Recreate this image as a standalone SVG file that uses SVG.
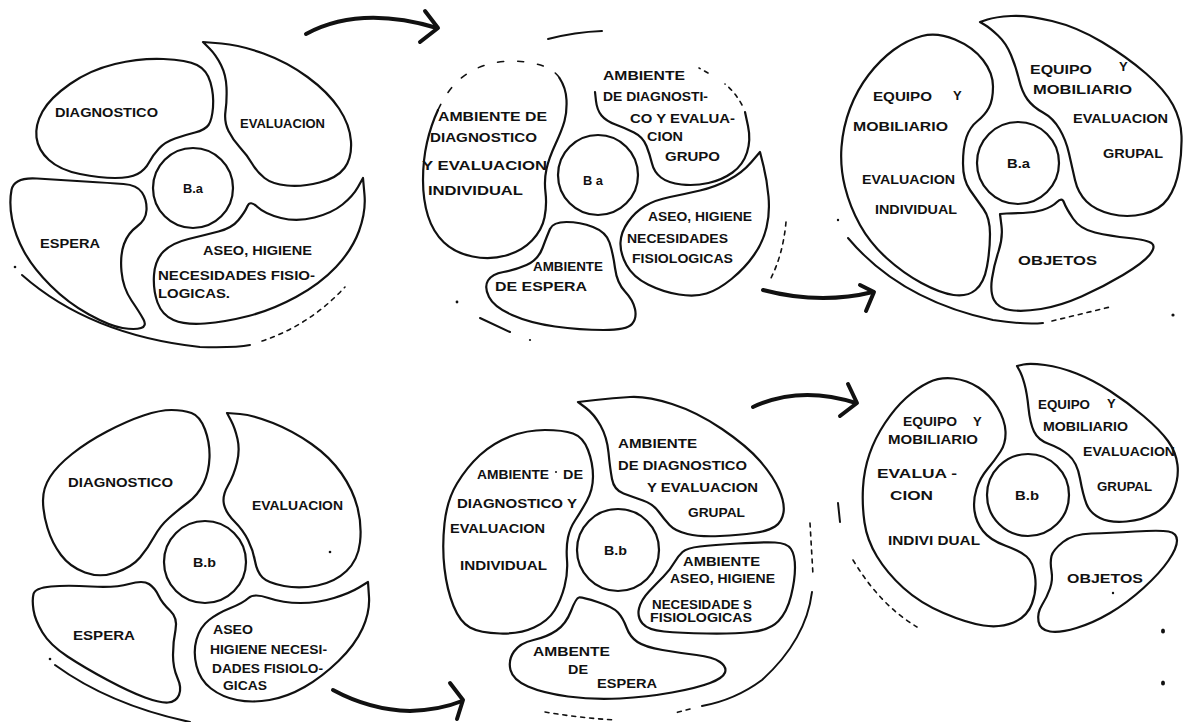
<svg xmlns="http://www.w3.org/2000/svg" width="1183" height="722" viewBox="0 0 1183 722">
<style>
  .blob { fill: none; stroke: #111; stroke-width: 2.2; stroke-linejoin: round; stroke-linecap: round; }
  .hub { fill: none; stroke: #111; stroke-width: 2.2; }
  .rim { fill: none; stroke: #111; stroke-width: 2; stroke-linecap: round; }
  .rimd { fill: none; stroke: #111; stroke-width: 1.6; stroke-linecap: round; stroke-dasharray: 4 5; }
  .faint { fill: none; stroke: #111; stroke-width: 1.6; stroke-linecap: round; stroke-dasharray: 6 14; }
  .arrow { fill: none; stroke: #111; stroke-width: 4; stroke-linecap: round; stroke-linejoin: round; }
  .dot { fill: #111; }
  text { font-family: "Liberation Sans", Arial, sans-serif; font-weight: bold; font-size: 13px; fill: #111; }
  .s { font-size: 12px; }
</style>
<rect width="1183" height="722" fill="#fff"/>

<!-- ===== Plan B.a, stage 1 ===== -->
<g id="a1">
  <g id="a1-diagnostico">
    <path class="blob" d="M115,64 Q140,58 163.5,59 Q187,60 197,65 Q207,70 210.5,82.5 Q214,95 213,107.5 Q212,120 208.5,125 Q205,130 195,132.5 Q185,135 175,138.5 Q165,142 159,148.5 Q153,155 149,162.5 Q145,170 137.5,174 Q130,178 115,178 Q100,178 80,174 Q60,170 49,160 Q38,150 36.5,137.5 Q35,125 42.5,111.5 Q50,98 70,84 Q90,70 115,64 Z"/>
    <text x="55" y="117" textLength="103" lengthAdjust="spacingAndGlyphs">DIAGNOSTICO</text>
  </g>
  <g id="a1-evaluacion">
    <path class="blob" d="M203,42 L221.5,43.5 Q240,45 263.5,53.5 Q287,62 307.5,77 Q328,92 339,108.5 Q350,125 351,141.5 Q352,158 344.5,168 Q337,178 319.5,182.5 Q302,187 287,185.5 Q272,184 264.5,178 Q257,172 252,163.5 Q247,155 240,147.5 Q233,140 228.5,131 Q224,122 225.5,111 Q227,100 226.5,87.5 Q226,75 221,65 Q216,55 209.5,48.5 Z"/>
    <text x="240" y="128" textLength="85" lengthAdjust="spacingAndGlyphs">EVALUACION</text>
  </g>
  <g id="a1-aseo">
    <path class="blob" d="M363,178 L364.5,195 Q366,212 359,231 Q352,250 336,267 Q320,284 296,297 Q272,310 248.5,316 Q225,322 205,323.5 Q185,325 173.5,320 Q162,315 157.5,302.5 Q153,290 154,275 Q155,260 163.5,251.5 Q172,243 188.5,239 Q205,235 218.5,231.5 Q232,228 238.5,220 Q245,212 247.5,206 Q250,200 257.5,207 Q265,214 281,218 Q297,222 314.5,217.5 Q332,213 342.5,204.5 Q353,196 358,187 Z"/>
    <text x="203" y="255" textLength="109" lengthAdjust="spacingAndGlyphs">ASEO, HIGIENE</text>
    <text x="158" y="280" textLength="157" lengthAdjust="spacingAndGlyphs">NECESIDADES FISIO-</text>
    <text x="158" y="298" textLength="72" lengthAdjust="spacingAndGlyphs">LOGICAS.</text>
  </g>
  <g id="a1-espera">
    <path class="blob" d="M11.5,190 Q14,177 37,178.5 Q60,180 85,181.5 Q110,183 123.5,184 Q137,185 142,192.5 Q147,200 146.5,210 Q146,220 137,226.5 Q128,233 124,244 Q120,255 121.5,271.5 Q123,288 131.5,300.5 Q140,313 143.5,319.5 Q147,326 141,328 Q135,330 122.5,328 Q110,326 89,314.5 Q68,303 50.5,285.5 Q33,268 24,251.5 Q15,235 12,219 Q9,203 11.5,190 Z"/>
    <text x="40" y="248" textLength="60" lengthAdjust="spacingAndGlyphs">ESPERA</text>
  </g>
  <g id="a1-hub">
    <circle class="hub" cx="193" cy="188" r="40"/>
    <text class="s" x="183" y="193" textLength="20" lengthAdjust="spacingAndGlyphs">B.a</text>
  </g>
  <g id="a1-rim">
    <path class="rim" d="M22,275 Q90,335 200,347 Q235,348 250,345"/>
    <path class="rimd" d="M262,341 Q310,325 345,287"/>
    <circle class="dot" cx="15" cy="267" r="1.3"/>
  </g>
</g>

<!-- ===== Plan B.a, stage 2 ===== -->
<g id="a2">
  <g id="a2-individual">
    <path class="blob" d="M559.5,78 Q566,88 566.5,100 Q567,112 564.5,121 Q562,130 555.5,144 Q549,158 546.5,169 Q544,180 545.5,192.5 Q547,205 544.5,217.5 Q542,230 532,240.5 Q522,251 506,255.5 Q490,260 472.5,256.5 Q455,253 444,242.5 Q433,232 428,216 Q423,200 423,180 Q423,160 427,142.5 Q431,125 438,110"/>
    <path class="faint" d="M438,110 Q445,95 453.5,85.5 Q462,76 474.5,69.5 Q487,63 503.5,61.5 Q520,60 536.5,64 Q553,68 559.5,78"/>
    <text x="438" y="121" textLength="109" lengthAdjust="spacingAndGlyphs">AMBIENTE  DE</text>
    <text x="430" y="142" textLength="107" lengthAdjust="spacingAndGlyphs">DIAGNOSTICO</text>
    <text x="422" y="170" textLength="125" lengthAdjust="spacingAndGlyphs">Y  EVALUACION</text>
    <text x="428" y="195" textLength="95" lengthAdjust="spacingAndGlyphs">INDIVIDUAL</text>
  </g>
  <g id="a2-grupo">
    <path class="blob" d="M595,92 L596,101 Q597,110 601.5,115.5 Q606,121 615.5,124.5 Q625,128 634,132.5 Q643,137 646.5,146 Q650,155 652,163.5 Q654,172 661,177.5 Q668,183 681.5,184.5 Q695,186 708.5,183 Q722,180 732.5,172.5 Q743,165 747,152.5 Q751,140 748,126 L745,112"/>
    <path class="rimd" d="M742,105 Q735,92 725,84 M708,73 L699,68"/>
    <text x="603" y="80" textLength="82" lengthAdjust="spacingAndGlyphs">AMBIENTE</text>
    <text x="603" y="101" textLength="105" lengthAdjust="spacingAndGlyphs">DE DIAGNOSTI-</text>
    <text x="630" y="123" textLength="105" lengthAdjust="spacingAndGlyphs">CO Y EVALUA-</text>
    <text x="647" y="141" textLength="36" lengthAdjust="spacingAndGlyphs">CION</text>
    <text x="665" y="161" textLength="55" lengthAdjust="spacingAndGlyphs">GRUPO</text>
  </g>
  <g id="a2-aseo">
    <path class="blob" d="M760,152 L763.5,166 Q767,180 768.5,196.5 Q770,213 766.5,227.5 Q763,242 754,255 Q745,268 731.5,279 Q718,290 706.5,293.5 Q695,297 679,294.5 Q663,292 648,284.5 Q633,277 626.5,265 Q620,253 620.5,242.5 Q621,232 628,222 Q635,212 645,206 Q655,200 670,197 Q685,194 700,190.5 Q715,187 728.5,180 Q742,173 751,162.5 Z"/>
    <text x="648" y="221" textLength="104" lengthAdjust="spacingAndGlyphs">ASEO, HIGIENE</text>
    <text x="627" y="243" textLength="101" lengthAdjust="spacingAndGlyphs">NECESIDADES</text>
    <text x="632" y="263" textLength="101" lengthAdjust="spacingAndGlyphs">FISIOLOGICAS</text>
  </g>
  <g id="a2-espera">
    <path class="blob" d="M550,229 Q553,222 566.5,222 Q580,222 593,227 Q606,232 609.5,242.5 Q613,253 615,268 Q617,283 625,291.5 Q633,300 635,309 Q637,318 632,324 Q627,330 603.5,330 Q580,330 555,326.5 Q530,323 512,315 Q494,307 489,297 Q484,287 488,280.5 Q492,274 503.5,272 Q515,270 526.5,265 Q538,260 542.5,248 Q547,236 550,229 Z"/>
    <text x="533" y="271" textLength="70" lengthAdjust="spacingAndGlyphs">AMBIENTE</text>
    <text x="495" y="291" textLength="92" lengthAdjust="spacingAndGlyphs">DE  ESPERA</text>
  </g>
  <g id="a2-hub">
    <circle class="hub" cx="598" cy="175" r="40"/>
    <text class="s" x="583" y="185" textLength="20" lengthAdjust="spacingAndGlyphs">B a</text>
  </g>
  <g id="a2-rim">
    <path class="rim" d="M548,39 Q575,32 602,31"/>
    <path class="rim" d="M480,318 L510,332"/>
    <path class="rimd" d="M786,222 Q783,255 770,280"/>
    <circle class="dot" cx="457" cy="302" r="1.4"/>
    <circle class="dot" cx="530" cy="340" r="1.1"/>
  </g>
</g>

<!-- ===== Plan B.a, stage 3 ===== -->
<g id="a3">
  <g id="a3-individual">
    <path class="blob" d="M922,36 Q937,32 955,39.5 Q973,47 983,60 Q993,73 993,86.5 Q993,100 989,107.5 Q985,115 977.5,121 Q970,127 966.5,137 Q963,147 963,163.5 Q963,180 970,190 Q977,200 983.5,209 Q990,218 990,234 Q990,250 987,266.5 Q984,283 975.5,290 Q967,297 953.5,295 Q940,293 921.5,283 Q903,273 886.5,258 Q870,243 860,225 Q850,207 845,187 Q840,167 841.5,147 Q843,127 850,108.5 Q857,90 868.5,75 Q880,60 893.5,50 Q907,40 922,36 Z"/>
    <text x="873" y="101" textLength="59" lengthAdjust="spacingAndGlyphs">EQUIPO</text>
    <text x="953" y="100">Y</text>
    <text x="853" y="131" textLength="95" lengthAdjust="spacingAndGlyphs">MOBILIARIO</text>
    <text x="862" y="184" textLength="93" lengthAdjust="spacingAndGlyphs">EVALUACION</text>
    <text x="875" y="214" textLength="82" lengthAdjust="spacingAndGlyphs">INDIVIDUAL</text>
  </g>
  <g id="a3-grupal">
    <path class="blob" d="M980,22 L987.5,19.5 Q995,17 1011,16 Q1027,15 1052,21 Q1077,27 1102,42 Q1127,57 1146,73.5 Q1165,90 1173,105 Q1181,120 1181.5,136 Q1182,152 1179,169.5 Q1176,187 1168,198.5 Q1160,210 1143.5,214 Q1127,218 1111,214 Q1095,210 1086.5,201.5 Q1078,193 1075,180 Q1072,167 1069,153.5 Q1066,140 1059.5,129 Q1053,118 1043,112.5 Q1033,107 1027.5,99.5 Q1022,92 1019,79.5 Q1016,67 1011,55 Q1006,43 998,35.5 Q990,28 985,25 Z"/>
    <text x="1030" y="74" textLength="62" lengthAdjust="spacingAndGlyphs">EQUIPO</text>
    <text x="1119" y="71">Y</text>
    <text x="1033" y="94" textLength="99" lengthAdjust="spacingAndGlyphs">MOBILIARIO</text>
    <text x="1073" y="123" textLength="95" lengthAdjust="spacingAndGlyphs">EVALUACION</text>
    <text x="1103" y="158" textLength="60" lengthAdjust="spacingAndGlyphs">GRUPAL</text>
  </g>
  <g id="a3-objetos">
    <path class="blob" d="M1000,214 L1001.5,226 Q1003,238 998.5,251.5 Q994,265 992,278.5 Q990,292 994,300 Q998,308 1010,310 Q1022,312 1041,309 Q1060,306 1081.5,296.5 Q1103,287 1123,275 Q1143,263 1149.5,255 Q1156,247 1152,243.5 Q1148,240 1129,238 Q1110,236 1095,232.5 Q1080,229 1073,218.5 Q1066,208 1064,202.5 Q1062,197 1057,202 Q1052,207 1042.5,210 Q1033,213 1023,213 Q1013,213 1006.5,213.5 Z"/>
    <text x="1018" y="265" textLength="79" lengthAdjust="spacingAndGlyphs">OBJETOS</text>
  </g>
  <g id="a3-hub">
    <circle class="hub" cx="1018" cy="163" r="41"/>
    <text class="s" x="1007" y="168" textLength="23" lengthAdjust="spacingAndGlyphs">B.a</text>
  </g>
  <g id="a3-rim">
    <path class="rim" d="M848,238 Q900,300 993,320 Q1025,325 1043,323"/>
    <path class="rimd" d="M1052,321 L1110,307"/>
    <circle class="dot" cx="1173" cy="315" r="1.6"/>
    <circle class="dot" cx="838" cy="220" r="1.2"/>
  </g>
</g>

<!-- ===== Plan B.b, stage 1 ===== -->
<g id="b1">
  <g id="b1-diagnostico">
    <path class="blob" d="M171.5,410 Q183,410 191.5,413 Q200,416 205,429.5 Q210,443 209.5,457.5 Q209,472 203.5,483.5 Q198,495 188,502.5 Q178,510 169,518 Q160,526 154,537 Q148,548 140,557.5 Q132,567 116,572.5 Q100,578 85,572.5 Q70,567 61,555 Q52,543 47.5,528 Q43,513 43,500.5 Q43,488 50,477 Q57,466 72,454 Q87,442 107,431.5 Q127,421 143.5,415.5 Q160,410 171.5,410 Z"/>
    <text x="68" y="487" textLength="105" lengthAdjust="spacingAndGlyphs">DIAGNOSTICO</text>
  </g>
  <g id="b1-evaluacion">
    <path class="blob" d="M227,413 L240,414 Q253,415 273,423 Q293,431 311.5,444 Q330,457 341.5,473.5 Q353,490 357.5,507.5 Q362,525 360,542.5 Q358,560 346.5,571 Q335,582 317.5,585.5 Q300,589 284,586 Q268,583 262.5,577.5 Q257,572 255,561 Q253,550 248,540 Q243,530 234.5,521.5 Q226,513 224,504.5 Q222,496 228,485.5 Q234,475 237,462.5 Q240,450 237.5,439 Q235,428 231,420.5 Z"/>
    <text x="252" y="510" textLength="91" lengthAdjust="spacingAndGlyphs">EVALUACION</text>
    <circle class="dot" cx="330" cy="552" r="1.3"/>
  </g>
  <g id="b1-aseo">
    <path class="blob" d="M368,582 L369,597 Q370,612 362.5,628.5 Q355,645 338.5,661 Q322,677 304.5,687 Q287,697 269.5,700 Q252,703 237,700 Q222,697 211,688.5 Q200,680 196.5,666 Q193,652 196.5,639.5 Q200,627 209,620 Q218,613 230.5,608 Q243,603 248.5,598 Q254,593 268.5,598 Q283,603 300.5,603 Q318,603 334,598 Q350,593 359,587.5 Z"/>
    <text x="213" y="634" textLength="40" lengthAdjust="spacingAndGlyphs">ASEO</text>
    <text x="210" y="654" textLength="117" lengthAdjust="spacingAndGlyphs">HIGIENE NECESI-</text>
    <text x="212" y="673" textLength="111" lengthAdjust="spacingAndGlyphs">DADES FISIOLO-</text>
    <text x="223" y="690" textLength="44" lengthAdjust="spacingAndGlyphs">GICAS</text>
  </g>
  <g id="b1-espera">
    <path class="blob" d="M33.5,594 Q35,588 51,586.5 Q67,585 91,586.5 Q115,588 129,584 Q143,580 149,584 Q155,588 158.5,595.5 Q162,603 170,610.5 Q178,618 175.5,630 Q173,642 173,655 Q173,668 177.5,678 Q182,688 179,695 Q176,702 168,702.5 Q160,703 145,697.5 Q130,692 107.5,680 Q85,668 67.5,656.5 Q50,645 42.5,632.5 Q35,620 33.5,610 Q32,600 33.5,594 Z"/>
    <text x="73" y="640" textLength="62" lengthAdjust="spacingAndGlyphs">ESPERA</text>
  </g>
  <g id="b1-hub">
    <circle class="hub" cx="205" cy="562" r="41"/>
    <text class="s" x="193" y="567" textLength="23" lengthAdjust="spacingAndGlyphs">B.b</text>
  </g>
  <g id="b1-rim">
    <path class="rim" d="M55,665 Q110,705 190,722"/>
    <circle class="dot" cx="50" cy="659" r="1.3"/>
  </g>
</g>

<!-- ===== Plan B.b, stage 2 ===== -->
<g id="b2">
  <g id="b2-individual">
    <path class="blob" d="M510,436.5 Q527,430 545,430 Q563,430 573,433.5 Q583,437 588,450 Q593,463 593,476.5 Q593,490 586.5,501.5 Q580,513 575,520.5 Q570,528 568,537.5 Q566,547 567,560 Q568,573 564.5,586.5 Q561,600 554.5,610.5 Q548,621 534,627.5 Q520,634 500,633.5 Q480,633 470,627.5 Q460,622 453.5,606 Q447,590 444.5,568.5 Q442,547 444.5,523.5 Q447,500 457,483.5 Q467,467 480,455 Q493,443 510,436.5 Z"/>
    <text x="477" y="479" textLength="72" lengthAdjust="spacingAndGlyphs">AMBIENTE</text>
    <circle class="dot" cx="556" cy="472" r="1"/>
    <text x="563" y="479" textLength="20" lengthAdjust="spacingAndGlyphs">DE</text>
    <text x="457" y="508" textLength="120" lengthAdjust="spacingAndGlyphs">DIAGNOSTICO  Y</text>
    <text x="450" y="533" textLength="95" lengthAdjust="spacingAndGlyphs">EVALUACION</text>
    <text x="460" y="570" textLength="87" lengthAdjust="spacingAndGlyphs">INDIVIDUAL</text>
  </g>
  <g id="b2-grupal">
    <path class="blob" d="M578,402 L595.5,400 Q613,398 630,397 Q647,396 672,404 Q697,412 722,429 Q747,446 760,461 Q773,476 779,489.5 Q785,503 783.5,512.5 Q782,522 775,526.5 Q768,531 754,533 Q740,535 720,536 Q700,537 687.5,534 Q675,531 669.5,525 Q664,519 658.5,511.5 Q653,504 643,500.5 Q633,497 623.5,493.5 Q614,490 612,479 Q610,468 608.5,452.5 Q607,437 600.5,425.5 Q594,414 586,408 Z"/>
    <text x="618" y="448" textLength="79" lengthAdjust="spacingAndGlyphs">AMBIENTE</text>
    <text x="618" y="470" textLength="129" lengthAdjust="spacingAndGlyphs">DE DIAGNOSTICO</text>
    <text x="647" y="492" textLength="111" lengthAdjust="spacingAndGlyphs">Y  EVALUACION</text>
    <text x="688" y="517" textLength="57" lengthAdjust="spacingAndGlyphs">GRUPAL</text>
  </g>
  <g id="b2-aseo">
    <path class="blob" d="M682.5,552 Q687,548 700,546.5 Q713,545 738,543.5 Q763,542 775,542.5 Q787,543 791,549 Q795,555 795,567.5 Q795,580 791,596 Q787,612 778.5,621 Q770,630 751.5,632 Q733,634 706.5,633.5 Q680,633 664,631.5 Q648,630 642.5,623.5 Q637,617 639,608.5 Q641,600 649,591.5 Q657,583 663.5,576.5 Q670,570 674,563 Q678,556 682.5,552 Z"/>
    <text class="s" x="683" y="566" textLength="77" lengthAdjust="spacingAndGlyphs">AMBIENTE</text>
    <text class="s" x="670" y="583" textLength="105" lengthAdjust="spacingAndGlyphs">ASEO, HIGIENE</text>
    <text class="s" x="652" y="609" textLength="100" lengthAdjust="spacingAndGlyphs">NECESIDADE S</text>
    <text class="s" x="650" y="622" textLength="102" lengthAdjust="spacingAndGlyphs">FISIOLOGICAS</text>
  </g>
  <g id="b2-espera">
    <path class="blob" d="M571,611 Q576,598 579,597.5 Q582,597 597.5,602 Q613,607 618,612.5 Q623,618 626.5,627.5 Q630,637 637.5,642 Q645,647 662.5,650 Q680,653 696.5,655 Q713,657 720,662 Q727,667 725,672.5 Q723,678 710,683 Q697,688 672,692.5 Q647,697 620,698.5 Q593,700 568,696.5 Q543,693 528,686.5 Q513,680 510.5,670 Q508,660 514,651.5 Q520,643 533.5,640 Q547,637 556.5,630.5 Q566,624 571,611 Z"/>
    <text x="533" y="656" textLength="77" lengthAdjust="spacingAndGlyphs">AMBENTE</text>
    <text x="568" y="674" textLength="20" lengthAdjust="spacingAndGlyphs">DE</text>
    <text x="597" y="688" textLength="60" lengthAdjust="spacingAndGlyphs">ESPERA</text>
  </g>
  <g id="b2-hub">
    <circle class="hub" cx="618" cy="550" r="41"/>
    <text class="s" x="604" y="555" textLength="23" lengthAdjust="spacingAndGlyphs">B.b</text>
  </g>
  <g id="b2-rim">
    <path class="rimd" d="M810,523 L813,575"/>
    <path class="rim" d="M812,592 Q806,640 762,680 Q735,700 702,706"/>
    <path class="rimd" d="M690,709 L675,713"/>
    <path class="rimd" d="M545,712 Q580,718 615,720"/>
  </g>
</g>

<!-- ===== Plan B.b, stage 3 ===== -->
<g id="b3">
  <g id="b3-individual">
    <path class="blob" d="M928.5,382.5 Q940,377 953.5,378.5 Q967,380 978.5,387.5 Q990,395 997.5,407.5 Q1005,420 1005.5,431.5 Q1006,443 1000.5,451.5 Q995,460 987.5,469 Q980,478 976.5,489 Q973,500 974.5,511 Q976,522 983,531 Q990,540 1005,545.5 Q1020,551 1026.5,556.5 Q1033,562 1035,576 Q1037,590 1032,603.5 Q1027,617 1013.5,622.5 Q1000,628 983.5,625.5 Q967,623 943.5,613 Q920,603 903.5,588 Q887,573 877,556.5 Q867,540 864.5,522.5 Q862,505 863,487.5 Q864,470 869.5,454 Q875,438 885,423 Q895,408 906,398 Q917,388 928.5,382.5 Z"/>
    <text x="903" y="426" textLength="54" lengthAdjust="spacingAndGlyphs">EQUIPO</text>
    <text x="973" y="426">Y</text>
    <text x="888" y="444" textLength="90" lengthAdjust="spacingAndGlyphs">MOBILIARIO</text>
    <text x="877" y="478" textLength="80" lengthAdjust="spacingAndGlyphs">EVALUA -</text>
    <text x="890" y="500" textLength="43" lengthAdjust="spacingAndGlyphs">CION</text>
    <text x="888" y="545" textLength="92" lengthAdjust="spacingAndGlyphs">INDIVI DUAL</text>
  </g>
  <g id="b3-grupal">
    <path class="blob" d="M1017,366 L1023.5,364.5 Q1030,363 1045,365 Q1060,367 1076.5,373.5 Q1093,380 1110,391 Q1127,402 1143.5,416 Q1160,430 1168,441 Q1176,452 1177.5,465 Q1179,478 1173.5,492 Q1168,506 1155.5,513 Q1143,520 1126.5,521.5 Q1110,523 1100,518 Q1090,513 1086.5,504 Q1083,495 1080,478.5 Q1077,462 1068.5,455 Q1060,448 1049,444 Q1038,440 1034,431.5 Q1030,423 1028.5,408 Q1027,393 1024.5,384 Q1022,375 1019.5,370.5 Z"/>
    <text x="1038" y="409" textLength="52" lengthAdjust="spacingAndGlyphs">EQUIPO</text>
    <text x="1107" y="408">Y</text>
    <text x="1043" y="431" textLength="85" lengthAdjust="spacingAndGlyphs">MOBILIARIO</text>
    <text x="1083" y="456" textLength="92" lengthAdjust="spacingAndGlyphs">EVALUACION</text>
    <text x="1097" y="491" textLength="55" lengthAdjust="spacingAndGlyphs">GRUPAL</text>
  </g>
  <g id="b3-objetos">
    <path class="blob" d="M1051.5,556 Q1053,550 1063,542 Q1073,534 1091.5,533.5 Q1110,533 1135,531.5 Q1160,530 1168.5,531.5 Q1177,533 1177,540.5 Q1177,548 1168.5,560.5 Q1160,573 1143.5,588 Q1127,603 1110,613 Q1093,623 1076.5,628 Q1060,633 1050,631.5 Q1040,630 1038.5,621.5 Q1037,613 1042,605 Q1047,597 1050,588.5 Q1053,580 1051.5,571 Q1050,562 1051.5,556 Z"/>
    <text x="1067" y="583" textLength="76" lengthAdjust="spacingAndGlyphs">OBJETOS</text>
    <circle class="dot" cx="1113" cy="593" r="1.2"/>
  </g>
  <g id="b3-hub">
    <circle class="hub" cx="1028" cy="495" r="41"/>
    <text class="s" x="1015" y="500" textLength="24" lengthAdjust="spacingAndGlyphs">B.b</text>
  </g>
  <g id="b3-rim">
    <path class="rim" d="M838,503 L840,522"/>
    <path class="rimd" d="M853,560 Q880,605 917,627"/>
    <ellipse class="dot" cx="1163" cy="631" rx="2" ry="2.6"/>
    <ellipse class="dot" cx="1163" cy="683" rx="2" ry="2.6"/>
  </g>
</g>

<!-- ===== Connectors: sequence arrows ===== -->
<g id="connectors">
  <path class="arrow" d="M306,34 Q360,5 437,28"/>
  <path class="arrow" d="M425,11 L438,28 L420,42"/>
  <path class="arrow" d="M763,290 Q820,305 873,292"/>
  <path class="arrow" d="M860,285 L874,292 L866,311"/>
  <path class="arrow" d="M333,690 Q370,710 410,711 Q440,710 462,701"/>
  <path class="arrow" d="M450,683 L463,700 L457,719"/>
  <path class="arrow" d="M753,407 Q800,385 856,403"/>
  <path class="arrow" d="M848,384 L857,403 L840,416"/>
</g>
</svg>
